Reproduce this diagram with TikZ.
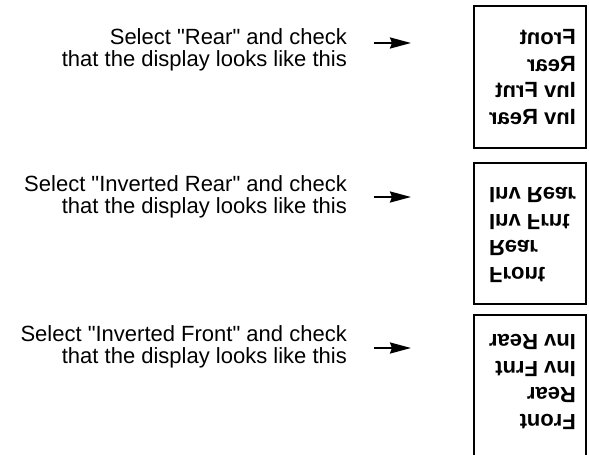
\documentclass[tikz,border=0pt]{standalone}
\usepackage{fontspec}
\setmainfont{Liberation Sans}
\usetikzlibrary{arrows.meta}

\begin{document}
\begin{tikzpicture}[x=1pt,y=-1pt]
	\tikzstyle{every node}=[inner sep=0pt]
	\tikzstyle{seltext}=[align=right,anchor=north east,font=\fontsize{22}{22}\selectfont]
	\tikzstyle{disp}=[draw,line width=2pt,minimum width=112.5pt,anchor=north west]
	\tikzstyle{dtext}=[align=left,font=\bfseries\fontsize{22}{26.7}\selectfont]
	\tikzstyle{arr}=[line width=2.2pt,-{Stealth[length=21pt,width=11pt,inset=2pt]}]
	
	\clip (0,0) rectangle (589,455);
	
	%Texte links
	\node[seltext] (sel1) at (347,28) {Select \textquotedbl Rear\textquotedbl\ and check\\that the display looks like this};
	\node[seltext] (sel2) at (347,175) {Select \textquotedbl Inverted Rear\textquotedbl\ and check\\that the display looks like this};
	\node[seltext] (sel3) at (347,325) {Select \textquotedbl Inverted Front\textquotedbl\ and check\\that the display looks like this};
	
	%Anzeigen
	\node[disp,minimum height=142pt] (disp1) at (472.5,5) {};
	\node[disp,minimum height=141pt] (disp2) at (472.5,162) {};
	\node[disp,minimum height=160pt] (disp3) at (472.5,314) {};
	\node[dtext,xscale=-1] (txt1) at (532.5,77) {Front\\Rear\\Inv Frnt\\Inv Rear};
	\node[dtext,yscale=-1] (txt2) at (532.5,235) {Front\\Rear\\Inv Frnt\\Inv Rear};
	\node[dtext,rotate=180] (txt3) at (532.5,382) {Front\\Rear\\Inv Frnt\\Inv Rear};
	
	%Pfeile
	\coordinate (a1) at (374,43);
	\coordinate (b1) at (411,43);
	\coordinate (a2) at (374,197);
	\coordinate (b2) at (411,197);
	\coordinate (a3) at (374,348);
	\coordinate (b3) at (411,348);
	\draw[arr] (a1) -- (b1);
	\draw[arr] (a2) -- (b2);
	\draw[arr] (a3) -- (b3);
	
\end{tikzpicture}
\end{document}
